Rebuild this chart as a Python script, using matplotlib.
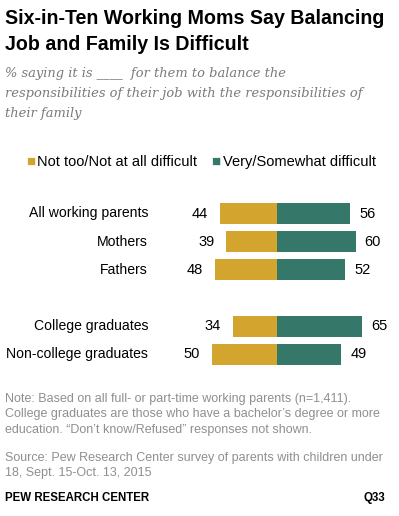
import matplotlib
matplotlib.use("Agg")
import matplotlib.pyplot as plt

# ---- data -------------------------------------------------------------
categories = ["All working parents", "Mothers", "Fathers",
              "College graduates", "Non-college graduates"]
not_difficult = [44, 39, 48, 34, 50]
difficult = [56, 60, 52, 65, 49]
series_names = ["Not too/Not at all difficult", "Very/Somewhat difficult"]
# ----------------------------------------------------------------------

GOLD = "#D4A52E"
GREEN = "#35786A"
GREY = "#8f8f8f"
W, H = 399, 516

plt.rcParams["font.family"] = ["Liberation Sans", "DejaVu Sans"]

fig = plt.figure(figsize=(W / 100, H / 100), dpi=100)


def fy(px):
    return 1 - px / H


def fx(px):
    return px / W


# title + subtitle
fig.text(fx(5), fy(18), "Six-in-Ten Working Moms Say Balancing",
         fontsize=14.1, fontweight="bold", va="center", ha="left")
fig.text(fx(5), fy(44), "Job and Family Is Difficult",
         fontsize=14.1, fontweight="bold", va="center", ha="left")
sub = ["% saying it is ____  for them to balance the",
       "responsibilities of their job with the responsibilities of",
       "their family"]
for i, line in enumerate(sub):
    fig.text(fx(5), fy(73 + 20 * i), line, fontsize=9.4, style="italic",
             family="DejaVu Serif", color="#7a7a7a", va="center")

# legend
leg_y = fy(162)
fig.text(fx(26), leg_y, "\u25a0", color=GOLD, fontsize=11, va="center")
fig.text(fx(37), leg_y, series_names[0], fontsize=10.5, va="center")
fig.text(fx(211), leg_y, "\u25a0", color=GREEN, fontsize=11, va="center")
fig.text(fx(223), leg_y, series_names[1], fontsize=10.5, va="center")

# bars
ax = fig.add_axes([0, (H - 367.5) / H, 1, 168 / H])
ypos = [0, 1, 2, 4.03, 5.03]
ax.barh(ypos, [-v for v in not_difficult], height=0.76, color=GOLD)
ax.barh(ypos, difficult, height=0.76, color=GREEN)
ax.set_xlim(-212.5, 93.3)
ax.set_ylim(5.5, -0.5)
ax.axis("off")

for y, cat, a, b in zip(ypos, categories, not_difficult, difficult):
    ax.text(-99, y, cat, ha="right", va="center", fontsize=10.1)
    ax.text(-a - 9, y, str(a), ha="right", va="center", fontsize=10.5)
    ax.text(b + 7, y, str(b), ha="left", va="center", fontsize=10.5)

# notes
notes = [
    (399, "Note: Based on all full- or part-time working parents (n=1,411)."),
    (414, "College graduates are those who have a bachelor\u2019s degree or more"),
    (430, "education. \u201cDon\u2019t know/Refused\u201d responses not shown."),
    (458, "Source: Pew Research Center survey of parents with children under"),
    (473, "18, Sept. 15-Oct. 13, 2015"),
]
for y, t in notes:
    fig.text(fx(5), fy(y), t, fontsize=9, color=GREY, va="center")
fig.text(fx(5), fy(498), "PEW RESEARCH CENTER", fontsize=8.3,
         fontweight="bold", va="center")
fig.text(fx(385), fy(498), "Q33", fontsize=8.3, fontweight="bold",
         va="center", ha="right")

fig.savefig("out.png", dpi=100)
